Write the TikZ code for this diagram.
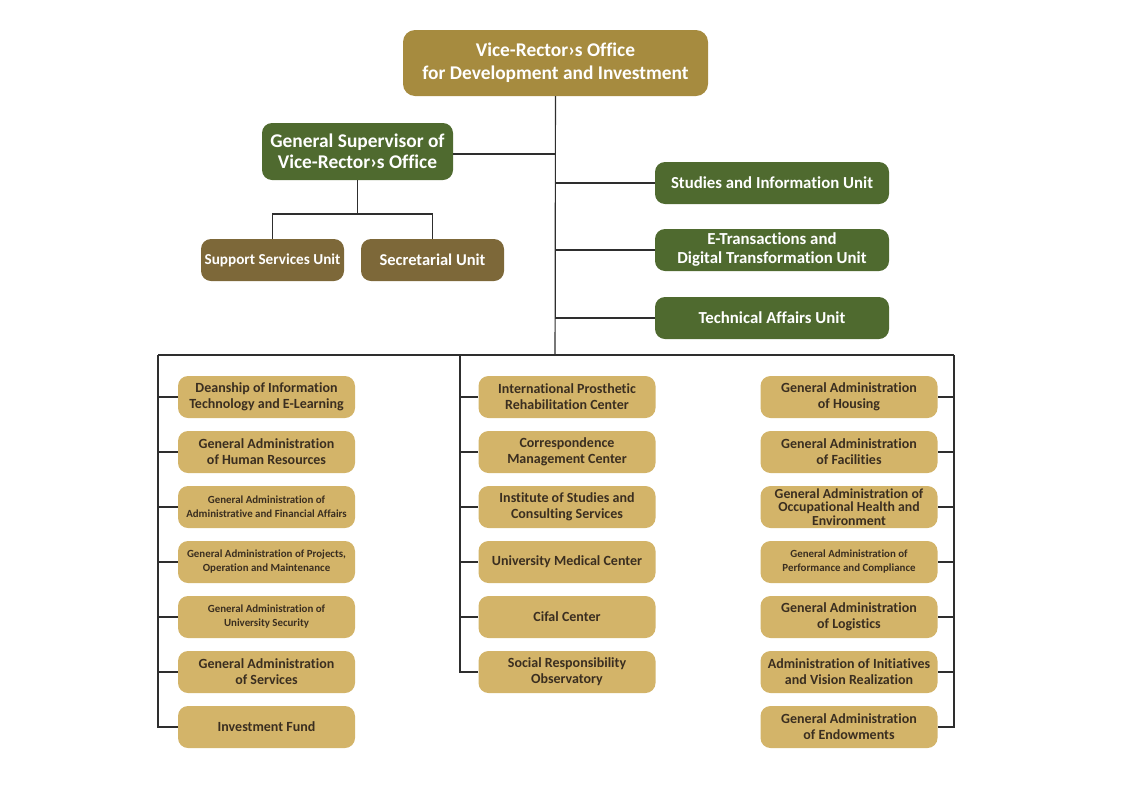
\documentclass[tikz,border=0pt]{standalone}
\usepackage{fontspec}
\setmainfont{Carlito}[Ligatures=NoCommon]
\usetikzlibrary{positioning}

\definecolor{vrgold}{HTML}{A68B3F}
\definecolor{vrgreen}{HTML}{4F6A2F}
\definecolor{vrbrown}{HTML}{7D6839}
\definecolor{vrsand}{HTML}{D3B469}
\definecolor{vrtext}{HTML}{3A2E20}
\definecolor{vrline}{HTML}{2E2E2E}

\tikzset{
  topbox/.style={fill=vrgold, rounded corners=12pt, text=white, align=center,
    minimum width=305pt, minimum height=66pt, inner sep=2pt,
    font=\fontsize{19.4}{23}\selectfont\bfseries},
  supbox/.style={fill=vrgreen, rounded corners=10pt, text=white, align=center,
    minimum width=191pt, minimum height=57pt, inner sep=2pt,
    font=\fontsize{19.4}{21.5}\selectfont\bfseries},
  greenbox/.style={fill=vrgreen, rounded corners=10pt, text=white, align=center,
    minimum width=234pt, minimum height=42pt, inner sep=2pt,
    font=\fontsize{16.8}{19}\selectfont\bfseries},
  unitbox/.style={fill=vrbrown, rounded corners=10pt, text=white, align=center,
    minimum width=143pt, minimum height=42pt, inner sep=2pt,
    font=\fontsize{16.5}{18}\selectfont\bfseries},
  adminbox/.style={fill=vrsand, rounded corners=10pt, text=vrtext, align=center,
    minimum width=177pt, minimum height=42pt, inner sep=2pt,
    font=\fontsize{14}{16}\selectfont\bfseries},
  adminsmall/.style={adminbox, font=\fontsize{10.9}{14}\selectfont\bfseries},
  link/.style={draw=vrline, line width=1.1pt}
}

\begin{document}
\begin{tikzpicture}[x=1pt, y=-1pt]
  \useasboundingbox (0,0) rectangle (1125,793);

  % top of the chart
  \node[topbox] (top) at (555.5,63) {Vice-Rector›s Office\\for Development and Investment};
  \node[supbox] (gs) at (357.5,151.5) {General Supervisor of\\Vice-Rector›s Office};
  \node[unitbox, font=\fontsize{15.2}{18}\selectfont\bfseries] (ssu) at (272.5,260) {Support Services Unit};
  \node[unitbox] (sec) at (432.5,260) {Secretarial Unit};

  \node[greenbox] (siu) at (772,183) {Studies and Information Unit};
  \node[greenbox] (etu) at (772,250) {E-Transactions and\\Digital Transformation Unit};
  \node[greenbox] (tau) at (772,318) {Technical Affairs Unit};

  % left column
  \node[adminbox] (l-0) at (266.5,397) {Deanship of Information\\Technology and E-Learning};
  \node[adminbox] (l-1) at (266.5,452) {General Administration\\of Human Resources};
  \node[adminsmall] (l-2) at (266.5,507) {General Administration of\\Administrative and Financial Affairs};
  \node[adminsmall] (l-3) at (266.5,562) {General Administration of Projects,\\Operation and Maintenance};
  \node[adminsmall] (l-4) at (266.5,617) {General Administration of\\University Security};
  \node[adminbox] (l-5) at (266.5,672) {General Administration\\of Services};
  \node[adminbox] (l-6) at (266.5,727) {Investment Fund};

  % middle column
  \node[adminbox] (m-0) at (567,397) {International Prosthetic\\Rehabilitation Center};
  \node[adminbox] (m-1) at (567,452) {Correspondence\\Management Center};
  \node[adminbox] (m-2) at (567,507) {Institute of Studies and\\Consulting Services};
  \node[adminbox] (m-3) at (567,562) {University Medical Center};
  \node[adminbox] (m-4) at (567,617) {Cifal Center};
  \node[adminbox] (m-5) at (567,672) {Social Responsibility\\Observatory};

  % right column
  \node[adminbox] (r-0) at (849,397) {General Administration\\of Housing};
  \node[adminbox] (r-1) at (849,452) {General Administration\\of Facilities};
  \node[adminbox, font=\fontsize{13.8}{13.6}\selectfont\bfseries] (r-2) at (849,507) {General Administration of\\Occupational Health and\\Environment};
  \node[adminsmall] (r-3) at (849,562) {General Administration of\\Performance and Compliance};
  \node[adminbox] (r-4) at (849,617) {General Administration\\of Logistics};
  \node[adminbox] (r-5) at (849,672) {Administration of Initiatives\\and Vision Realization};
  \node[adminbox] (r-6) at (849,727) {General Administration\\of Endowments};

  % bus points
  \coordinate (hub) at (555,355);
  \coordinate (lbus) at (158,355);
  \coordinate (mbus) at (460,355);
  \coordinate (rbus) at (954,355);
  \coordinate (gsjoin) at (357.5,214);

  % connectors
  \draw[link] (top.south) -- (hub);
  \draw[link] ([yshift=-2.5pt]gs.east) -| (top.south);
  \draw[link] (gs.south) -- (gsjoin);
  \draw[link] (gsjoin) -| (ssu.north);
  \draw[link] (gsjoin) -| (sec.north);
  \foreach \u in {siu,etu,tau}
    \draw[link] (top.south) |- (\u.west);
  \draw[link] (lbus) -- (rbus);
  \foreach \i in {0,...,6} {
    \draw[link] (lbus) |- (l-\i.west);
    \draw[link] (rbus) |- (r-\i.east);
  }
  \foreach \i in {0,...,5}
    \draw[link] (mbus) |- (m-\i.west);
\end{tikzpicture}
\end{document}
